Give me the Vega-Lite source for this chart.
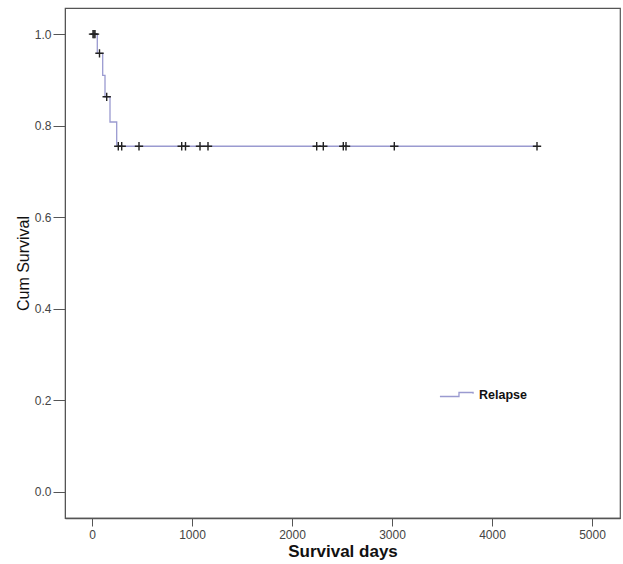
{
  "$schema": "https://vega.github.io/schema/vega-lite/v6.json",
  "autosize": "none",
  "width": 555,
  "height": 510,
  "padding": {"left": 65, "top": 8, "right": 3, "bottom": 46},
  "background": "white",
  "config": {
    "view": {"stroke": "#555555", "strokeWidth": 1.2},
    "font": "Liberation Sans",
    "axis": {
      "grid": false,
      "domain": true,
      "domainColor": "#555555",
      "tickColor": "#555555",
      "tickSize": 8,
      "labelColor": "#444444",
      "labelFont": "Liberation Sans",
      "labelFontSize": 12,
      "titleFont": "Liberation Sans",
      "titleColor": "#111111"
    }
  },
  "data": {
    "values": [
      {"kind": "curve", "group": "Relapse", "days": 0, "surv": 1.0},
      {"kind": "curve", "group": "Relapse", "days": 53, "surv": 0.958},
      {"kind": "curve", "group": "Relapse", "days": 107, "surv": 0.91},
      {"kind": "curve", "group": "Relapse", "days": 130, "surv": 0.863},
      {"kind": "curve", "group": "Relapse", "days": 180, "surv": 0.808},
      {"kind": "curve", "group": "Relapse", "days": 247, "surv": 0.755},
      {"kind": "curve", "group": "Relapse", "days": 4450, "surv": 0.755},
      {"kind": "censor", "group": "Relapse", "days": 10, "surv": 1.0},
      {"kind": "censor", "group": "Relapse", "days": 20, "surv": 1.0},
      {"kind": "censor", "group": "Relapse", "days": 30, "surv": 1.0},
      {"kind": "censor", "group": "Relapse", "days": 75, "surv": 0.958},
      {"kind": "censor", "group": "Relapse", "days": 147, "surv": 0.863},
      {"kind": "censor", "group": "Relapse", "days": 263, "surv": 0.755},
      {"kind": "censor", "group": "Relapse", "days": 297, "surv": 0.755},
      {"kind": "censor", "group": "Relapse", "days": 470, "surv": 0.755},
      {"kind": "censor", "group": "Relapse", "days": 897, "surv": 0.755},
      {"kind": "censor", "group": "Relapse", "days": 935, "surv": 0.755},
      {"kind": "censor", "group": "Relapse", "days": 1080, "surv": 0.755},
      {"kind": "censor", "group": "Relapse", "days": 1160, "surv": 0.755},
      {"kind": "censor", "group": "Relapse", "days": 2247, "surv": 0.755},
      {"kind": "censor", "group": "Relapse", "days": 2313, "surv": 0.755},
      {"kind": "censor", "group": "Relapse", "days": 2513, "surv": 0.755},
      {"kind": "censor", "group": "Relapse", "days": 2540, "surv": 0.755},
      {"kind": "censor", "group": "Relapse", "days": 3023, "surv": 0.755},
      {"kind": "censor", "group": "Relapse", "days": 4450, "surv": 0.755}
    ]
  },
  "encoding": {
    "x": {
      "field": "days",
      "type": "quantitative",
      "scale": {"domain": [-270, 5280], "nice": false, "zero": false},
      "axis": {
        "title": "Survival days",
        "titleFontSize": 17,
        "titleFontWeight": "bold",
        "titlePadding": 3,
        "values": [0, 1000, 2000, 3000, 4000, 5000],
        "format": "d",
        "labelPadding": 3,
        "domainWidth": 1.5
      }
    },
    "y": {
      "field": "surv",
      "type": "quantitative",
      "scale": {"domain": [-0.057, 1.057], "nice": false, "zero": false},
      "axis": {
        "title": "Cum Survival",
        "titleFontSize": 16,
        "titleFontWeight": "normal",
        "titlePadding": 3,
        "values": [0, 0.2, 0.4, 0.6, 0.8, 1.0],
        "format": ".1f",
        "tickSize": 12,
        "labelPadding": 2
      }
    }
  },
  "layer": [
    {
      "transform": [{"filter": "datum.kind === 'curve'"}],
      "mark": {"type": "line", "interpolate": "step-after", "strokeWidth": 1.3},
      "encoding": {
        "color": {
          "field": "group",
          "type": "nominal",
          "scale": {"range": ["#9a9ad0"]},
          "legend": {
            "title": null,
            "orient": "none",
            "legendX": 374,
            "legendY": 369,
            "symbolType": "M-1,0.12H0.15V-0.12H1V-0.04",
            "symbolSize": 1100,
            "symbolStrokeWidth": 1.3,
            "symbolFillColor": "transparent",
            "labelFont": "Liberation Sans",
            "labelFontSize": 12.5,
            "labelFontWeight": "bold",
            "labelColor": "#111111",
            "labelOffset": 5
          }
        }
      }
    },
    {
      "transform": [{"filter": "datum.kind === 'censor'"}],
      "mark": {
        "type": "point",
        "shape": "M-1,0H1M0,-1V1",
        "size": 70,
        "filled": false,
        "stroke": "#222222",
        "strokeWidth": 1.4,
        "opacity": 1
      }
    }
  ]
}
